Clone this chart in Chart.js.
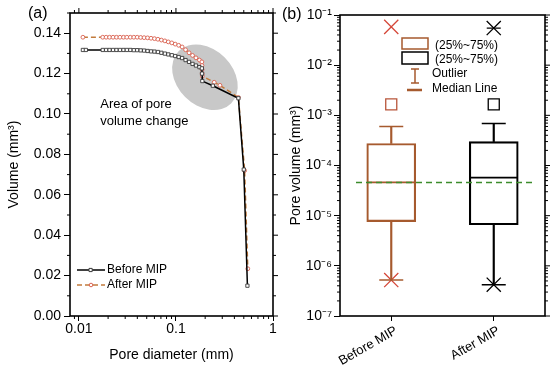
<!DOCTYPE html>
<html>
<head>
<meta charset="utf-8">
<script src="https://cdn.jsdelivr.net/npm/chart.js@4.4.1/dist/chart.umd.min.js"></script>
<style>
  html, body { margin: 0; padding: 0; background: #fff; }
  #wrap { position: relative; width: 550px; height: 375px; }
  .panel { position: absolute; top: 0; height: 375px; }
</style>
</head>
<body>
<div id="wrap">
  <div class="panel" style="left:0;width:280px"><canvas id="chartA"></canvas></div>
  <div class="panel" style="left:280px;width:270px"><canvas id="chartB"></canvas></div>
</div>
<script>
// ---- panel (a): cumulative volume vs pore diameter ----
const beforeDia = [0.0110, 0.0118, 0.0176, 0.0191, 0.0207, 0.0225, 0.0244, 0.0265, 0.0288, 0.0312,
  0.0339, 0.0368, 0.0399, 0.0433, 0.0470, 0.0510, 0.0554, 0.0601, 0.0652, 0.0708, 0.0769, 0.0834,
  0.0906, 0.0983, 0.1067, 0.1158, 0.1257, 0.1365, 0.1482, 0.1608, 0.1746, 0.1850, 0.1857, 0.1870,
  0.2400, 0.4400, 0.5000, 0.5450];
const beforeVol = [0.1317, 0.1317, 0.1317, 0.1317, 0.1317, 0.1317, 0.1317, 0.1317, 0.1317, 0.1317,
  0.1317, 0.1316, 0.1316, 0.1315, 0.1314, 0.1312, 0.1310, 0.1309, 0.1307, 0.1303, 0.1299, 0.1295,
  0.1291, 0.1287, 0.1282, 0.1277, 0.1267, 0.1258, 0.1248, 0.1240, 0.1232, 0.1226, 0.1200, 0.1163,
  0.1140, 0.1078, 0.0725, 0.0150];

const afterDia = [0.0110, 0.0176, 0.0191, 0.0207, 0.0225, 0.0244, 0.0265, 0.0288, 0.0312,
  0.0339, 0.0368, 0.0399, 0.0433, 0.0470, 0.0510, 0.0554, 0.0601, 0.0652, 0.0708, 0.0769, 0.0834,
  0.0906, 0.0983, 0.1067, 0.1158, 0.1257, 0.1365, 0.1482, 0.1608, 0.1746, 0.1850, 0.1855, 0.1860,
  0.1865, 0.1870, 0.2480, 0.2840, 0.4400, 0.5100, 0.5500];
const afterVol = [0.1380, 0.1380, 0.1380, 0.1380, 0.1380, 0.1380, 0.1380, 0.1380, 0.1380,
  0.1380, 0.1380, 0.1380, 0.1379, 0.1378, 0.1377, 0.1375, 0.1373, 0.1370, 0.1366, 0.1362, 0.1357,
  0.1352, 0.1346, 0.1340, 0.1332, 0.1318, 0.1303, 0.1290, 0.1278, 0.1267, 0.1258, 0.1240, 0.1220,
  0.1200, 0.1187, 0.1157, 0.1142, 0.1082, 0.0720, 0.0234];

const xTicksA = [0.01, 0.1, 1];
const xTickLabelsA = ["0.01", "0.1", "1"];
const xMinorA = [0.009, 0.02, 0.03, 0.04, 0.05, 0.06, 0.07, 0.08, 0.09, 0.2, 0.3, 0.4, 0.5, 0.6, 0.7, 0.8, 0.9];
const yTicksA = [0, 0.02, 0.04, 0.06, 0.08, 0.10, 0.12, 0.14];
const yTickLabelsA = ["0.00", "0.02", "0.04", "0.06", "0.08", "0.10", "0.12", "0.14"];
const yMinorA = [0.01, 0.03, 0.05, 0.07, 0.09, 0.11, 0.13, 0.15];

// ---- panel (b): box plot of pore volume ----
const groups = ["Before MIP", "After MIP"];
const boxQ1 = [7.6e-6, 6.6e-6];
const boxQ3 = [2.75e-4, 3.0e-4];
const boxMedian = [4.6e-5, 5.75e-5];
const whiskerLow = [5.2e-7, 4.2e-7];
const whiskerHigh = [6.0e-4, 6.9e-4];
const outlierSq = [1.66e-3, 1.66e-3];
const extremeMax = [0.058, 0.055];
const extremeMin = [5.2e-7, 4.2e-7];
const refLine = 4.6e-5;

const yTicksB = [1e-7, 1e-6, 1e-5, 1e-4, 1e-3, 1e-2, 1e-1];
const yTickLabelsB = ["10\u207B\u2077", "10\u207B\u2076", "10\u207B\u2075", "10\u207B\u2074", "10\u207B\u00B3", "10\u207B\u00B2", "10\u207B\u00B9"];
const minorMult = [2, 3, 4, 5, 6, 7, 8, 9];

Chart.defaults.font.family = "'Liberation Sans', Arial, sans-serif";
Chart.defaults.color = "#000";

const BROWN = "#a65a2e";
const RED = "#d5483a";

// kill the automatic label overhang padding so layout.padding places the plot area
function noPad(s) {
  s.paddingTop = 0;
  s.paddingBottom = 0;
  s.paddingLeft = 0;
  s.paddingRight = 0;
}

// frame + minor/mirrored ticks
const framePlugin = {
  id: "frame",
  afterDraw(chart, args, o) {
    const { ctx, chartArea: a, scales } = chart;
    const line = (x1, y1, x2, y2) => { ctx.beginPath(); ctx.moveTo(x1, y1); ctx.lineTo(x2, y2); ctx.stroke(); };
    ctx.save();
    ctx.strokeStyle = "#000";
    ctx.lineWidth = 1;
    (o.xMinor || []).forEach(v => {
      const x = scales.x.getPixelForValue(v);
      line(x, a.bottom, x, a.bottom + 3);
      if (o.mirror) line(x, a.top, x, a.top - 3);
    });
    if (o.mirror) (o.xMajor || []).forEach(v => {
      const x = scales.x.getPixelForValue(v);
      line(x, a.top, x, a.top - 5);
    });
    (o.yMinor || []).forEach(v => {
      const y = scales.y.getPixelForValue(v);
      if (y < a.top - 0.5 || y > a.bottom + 0.5) return;
      line(a.left, y, a.left - 3, y);
      line(a.right, y, a.right + 3, y);
    });
    (o.yMajor || []).forEach(v => {
      const y = scales.y.getPixelForValue(v);
      line(a.right, y, a.right + 5, y);
    });
    ctx.lineWidth = 1.6;
    ctx.strokeRect(a.left, a.top, a.right - a.left, a.bottom - a.top);
    ctx.restore();
  }
};

// gray ellipse and annotation for panel (a)
const areaPlugin = {
  id: "area",
  beforeDatasetsDraw(chart) {
    const { ctx, scales } = chart;
    const cx = scales.x.getPixelForValue(0.199);
    const cy = scales.y.getPixelForValue(0.1182);
    ctx.save();
    ctx.fillStyle = "#c8c8c8";
    ctx.beginPath();
    ctx.ellipse(cx, cy, 37, 28, Math.PI / 4, 0, Math.PI * 2);
    ctx.fill();
    ctx.restore();
  },
  afterDraw(chart) {
    const { ctx, scales, chartArea: a } = chart;
    ctx.save();
    ctx.fillStyle = "#000";
    ctx.font = "13px 'Liberation Sans', Arial, sans-serif";
    ctx.textBaseline = "middle";
    const tx = scales.x.getPixelForValue(0.0166);
    ctx.fillText("Area of pore", tx, scales.y.getPixelForValue(0.1048));
    ctx.fillText("volume change", tx, scales.y.getPixelForValue(0.0964));
    // legend
    ctx.font = "12px 'Liberation Sans', Arial, sans-serif";
    const lx = a.left + 7, ly1 = a.bottom - 46, ly2 = a.bottom - 31;
    chart.data.datasets.forEach((ds, i) => {
      const y = i === 0 ? ly1 : ly2;
      ctx.strokeStyle = ds.borderColor;
      ctx.lineWidth = 1.5;
      ctx.setLineDash(ds.borderDash || []);
      ctx.beginPath(); ctx.moveTo(lx, y); ctx.lineTo(lx + 28, y); ctx.stroke();
      ctx.setLineDash([]);
      ctx.fillStyle = "#fff";
      ctx.strokeStyle = ds.pointBorderColor;
      ctx.lineWidth = 1;
      ctx.beginPath();
      if (ds.pointStyle === "rect") ctx.rect(lx + 12, y - 1.6, 3.2, 3.2);
      else ctx.arc(lx + 14, y, 1.8, 0, Math.PI * 2);
      ctx.fill(); ctx.stroke();
      ctx.fillStyle = "#000";
      ctx.fillText(ds.label, lx + 30, y);
    });
    ctx.font = "16px 'Liberation Sans', Arial, sans-serif";
    ctx.fillText("(a)", 28, 14);
    ctx.restore();
  }
};

new Chart(document.getElementById("chartA"), {
  type: "line",
  data: {
    datasets: [
      {
        label: "Before MIP",
        data: beforeDia.map((d, i) => ({ x: d, y: beforeVol[i] })),
        borderColor: "#000",
        borderWidth: 1.5,
        pointStyle: "rect",
        pointRadius: 2.3,
        pointBorderWidth: 0.9,
        pointBorderColor: "#3a3a3a",
        pointBackgroundColor: "#fff",
        order: 0,
      },
      {
        label: "After MIP",
        data: afterDia.map((d, i) => ({ x: d, y: afterVol[i] })),
        borderColor: "#c27b3c",
        borderDash: [5, 3],
        borderWidth: 1.5,
        pointStyle: "circle",
        pointRadius: 1.9,
        pointBorderWidth: 0.9,
        pointBorderColor: "#d9604f",
        pointBackgroundColor: "#fff",
        order: 1,
      },
    ],
  },
  options: {
    responsive: true,
    maintainAspectRatio: false,
    animation: false,
    layout: { autoPadding: false, padding: { top: 13, right: 7, left: 0, bottom: 0 } },
    plugins: {
      legend: { display: false },
      tooltip: { enabled: false },
      frame: { xMajor: xTicksA, xMinor: xMinorA, yMajor: yTicksA, yMinor: yMinorA, mirror: true },
    },
    scales: {
      x: {
        type: "logarithmic",
        min: 0.0081,
        max: 1,
        afterBuildTicks: (s) => { s.ticks = xTicksA.map((v) => ({ value: v })); },
        afterFit: (s) => { s.height = 59; noPad(s); },
        border: { display: false },
        grid: { drawOnChartArea: false, drawTicks: true, tickLength: 5, color: "#000", lineWidth: 1 },
        ticks: {
          padding: 0,
          maxRotation: 0,
          autoSkip: false,
          font: { size: 14 },
          callback: (v) => xTickLabelsA[xTicksA.indexOf(v)],
        },
        title: { display: true, text: "Pore diameter (mm)", font: { size: 14 }, padding: { bottom: 11 } },
      },
      y: {
        min: 0,
        max: 0.15,
        afterBuildTicks: (s) => { s.ticks = yTicksA.map((v) => ({ value: v })); },
        afterFit: (s) => { s.width = 70; noPad(s); },
        border: { display: false },
        grid: { drawOnChartArea: false, drawTicks: true, tickLength: 6, color: "#000", lineWidth: 1 },
        ticks: {
          padding: 3,
          font: { size: 14 },
          callback: (v) => yTickLabelsA[yTicksA.findIndex((t) => Math.abs(t - v) < 1e-9)],
        },
        title: { display: true, text: "Volume (mm\u00B3)", font: { size: 14 }, padding: { top: 6 } },
      },
    },
  },
  plugins: [framePlugin, areaPlugin],
});

// panel (b) extras: reference line, legend, label
const boxExtras = {
  id: "boxExtras",
  afterDatasetsDraw(chart) {
    const { ctx, scales, chartArea: a } = chart;
    const y = scales.y.getPixelForValue(refLine);
    ctx.save();
    ctx.strokeStyle = "#3c8c2c";
    ctx.lineWidth = 1.5;
    ctx.setLineDash([6, 4]);
    ctx.beginPath(); ctx.moveTo(a.left + 16, y); ctx.lineTo(a.right - 10, y); ctx.stroke();
    ctx.restore();
  },
  afterDraw(chart) {
    const { ctx, chartArea: a } = chart;
    ctx.save();
    const bx = a.left + 62;
    ctx.lineWidth = 1.5;
    ctx.strokeStyle = BROWN;
    ctx.strokeRect(bx, a.top + 23, 26, 11);
    ctx.strokeStyle = "#000";
    ctx.strokeRect(bx, a.top + 37, 26, 12);
    // whisker icon
    ctx.strokeStyle = BROWN;
    ctx.beginPath();
    ctx.moveTo(bx + 13, a.top + 54); ctx.lineTo(bx + 13, a.top + 68);
    ctx.moveTo(bx + 9, a.top + 54); ctx.lineTo(bx + 17, a.top + 54);
    ctx.moveTo(bx + 9, a.top + 68); ctx.lineTo(bx + 17, a.top + 68);
    ctx.stroke();
    ctx.lineWidth = 2.5;
    ctx.beginPath(); ctx.moveTo(bx + 5, a.top + 75); ctx.lineTo(bx + 20, a.top + 75); ctx.stroke();
    ctx.fillStyle = "#000";
    ctx.font = "12px 'Liberation Sans', Arial, sans-serif";
    ctx.textBaseline = "middle";
    ctx.fillText("(25%~75%)", bx + 33, a.top + 31);
    ctx.fillText("(25%~75%)", bx + 33, a.top + 45);
    ctx.fillText("Outlier", bx + 30, a.top + 59);
    ctx.fillText("Median Line", bx + 30, a.top + 74);
    ctx.font = "16px 'Liberation Sans', Arial, sans-serif";
    ctx.fillText("(b)", 2, 15);
    ctx.restore();
  }
};

const boxColors = [BROWN, "#000"];
const xColors = [RED, "#000"];

new Chart(document.getElementById("chartB"), {
  type: "bar",
  data: {
    labels: groups,
    datasets: [
      {
        data: groups.map((g, i) => [boxQ1[i], boxQ3[i]]),
        backgroundColor: "rgba(255,255,255,0)",
        borderColor: boxColors,
        borderWidth: 1.5,
        borderSkipped: false,
        barThickness: 49,
        grouped: false,
      },
      {
        data: groups.map((g, i) => [boxQ3[i], whiskerHigh[i]]),
        backgroundColor: boxColors,
        borderWidth: 0,
        barThickness: 1.5,
        grouped: false,
      },
      {
        data: groups.map((g, i) => [whiskerLow[i], boxQ1[i]]),
        backgroundColor: boxColors,
        borderWidth: 0,
        barThickness: 1.5,
        grouped: false,
      },
      {
        type: "line", data: whiskerHigh, showLine: false,
        pointStyle: "line", pointRadius: 12, pointBorderWidth: 1.5, pointBorderColor: boxColors,
      },
      {
        type: "line", data: whiskerLow, showLine: false,
        pointStyle: "line", pointRadius: 12, pointBorderWidth: 1.5, pointBorderColor: boxColors,
      },
      {
        type: "line", data: boxMedian, showLine: false,
        pointStyle: "line", pointRadius: 24, pointBorderWidth: 1.8, pointBorderColor: boxColors,
      },
      {
        type: "line", data: outlierSq, showLine: false,
        pointStyle: "rect", pointRadius: 7.8, pointBorderWidth: 1.3,
        pointBorderColor: ["#b8553a", "#000"], pointBackgroundColor: "rgba(255,255,255,0)",
      },
      {
        type: "line", data: extremeMax, showLine: false,
        pointStyle: "crossRot", pointRadius: 10, pointBorderWidth: 1.3, pointBorderColor: xColors,
      },
      {
        type: "line", data: [null, extremeMax[1]], showLine: false,
        pointStyle: "line", pointRadius: 7, pointBorderWidth: 1.3, pointBorderColor: "#000",
      },
      {
        type: "line", data: extremeMin, showLine: false,
        pointStyle: "crossRot", pointRadius: 10, pointBorderWidth: 1.3, pointBorderColor: xColors,
      },
    ],
  },
  options: {
    responsive: true,
    maintainAspectRatio: false,
    animation: false,
    layout: { autoPadding: false, padding: { top: 15, right: 5, left: 0, bottom: 0 } },
    plugins: {
      legend: { display: false },
      tooltip: { enabled: false },
      frame: {
        yMajor: yTicksB,
        yMinor: yTicksB.slice(0, -1).flatMap((d) => minorMult.map((m) => m * d)),
        mirror: false,
      },
    },
    scales: {
      x: {
        offset: true,
        afterFit: (s) => { s.height = 59; noPad(s); },
        border: { display: false },
        grid: { offset: false, drawOnChartArea: false, drawTicks: true, tickLength: 5, color: "#000", lineWidth: 1 },
        ticks: { minRotation: 30, maxRotation: 30, padding: 2, labelOffset: 5, font: { size: 13 } },
      },
      y: {
        type: "logarithmic",
        min: 1e-7,
        max: 1e-1,
        afterBuildTicks: (s) => { s.ticks = yTicksB.map((v) => ({ value: v })); },
        afterFit: (s) => { s.width = 60; noPad(s); },
        border: { display: false },
        grid: { drawOnChartArea: false, drawTicks: true, tickLength: 6, color: "#000", lineWidth: 1 },
        ticks: {
          padding: 2,
          font: { size: 14 },
          callback: (v) => yTickLabelsB[yTicksB.findIndex((t) => Math.abs(t - v) / t < 1e-6)],
        },
        title: { display: true, text: "Pore volume (mm\u00B3)", font: { size: 14 }, padding: { top: 8 } },
      },
    },
  },
  plugins: [framePlugin, boxExtras],
});
</script>
</body>
</html>
